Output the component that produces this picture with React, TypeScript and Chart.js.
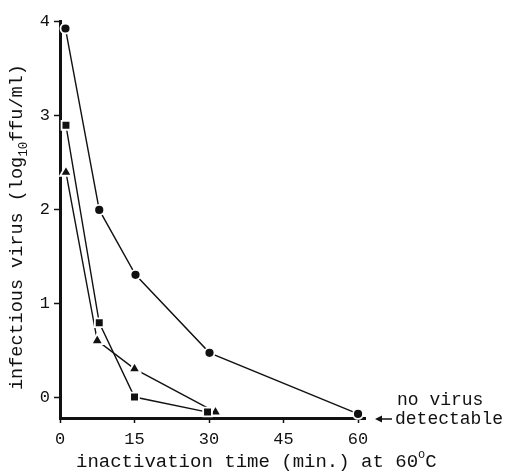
import React, { useEffect, useRef } from "react";
import { Chart, registerables } from "chart.js";

Chart.register(...registerables);

// ---- data ----
const circleX = [1.1, 7.9, 15.2, 30.1, 60];
const circleY = [3.92, 1.99, 1.3, 0.47, -0.18];

const squareX = [1.2, 7.9, 15, 29.7];
const squareY = [2.89, 0.79, 0, -0.16];

const triangleX = [1.2, 7.5, 15, 31.3];
const triangleY = [2.39, 0.6, 0.3, -0.16];

const xTicks = [0, 15, 30, 45, 60];
const yTicks = [0, 1, 2, 3, 4];

const X_MIN = 0;
const X_MAX = 61.4;
const Y_MIN = -0.223;
const Y_MAX = 4;

const xTitleMain = "inactivation time (min.) at 60";
const xTitleSup = "o";
const xTitleEnd = "C";
const yTitleMain = "infectious virus (log";
const yTitleSub = "10";
const yTitleEnd = "ffu/ml)";
const noteLine1 = "no virus";
const noteLine2 = "detectable";

const INK = "#111111";
const FONT = "'Liberation Mono', 'Courier New', monospace";

type Seg = { t: string; size: number; dy: number };

function drawRich(ctx: CanvasRenderingContext2D, segs: Seg[], x: number, y: number) {
  let cx = x;
  for (const s of segs) {
    ctx.font = `${s.size}px ${FONT}`;
    ctx.fillText(s.t, cx, y + s.dy);
    cx += ctx.measureText(s.t).width;
  }
}

const textPlugin = {
  id: "textPlugin",
  afterDraw(chart: any) {
    const { ctx, chartArea } = chart;
    ctx.save();
    ctx.fillStyle = INK;
    ctx.strokeStyle = INK;
    ctx.textAlign = "left";
    ctx.textBaseline = "alphabetic";

    // x axis title with superscript degree sign
    drawRich(
      ctx,
      [
        { t: xTitleMain, size: 19, dy: 0 },
        { t: xTitleSup, size: 12, dy: -9 },
        { t: xTitleEnd, size: 19, dy: 0 },
      ],
      chartArea.left + 16,
      chartArea.bottom + 49
    );

    // y axis title, rotated, with subscript
    ctx.save();
    ctx.translate(22, chartArea.bottom - 28);
    ctx.rotate(-Math.PI / 2);
    drawRich(
      ctx,
      [
        { t: yTitleMain, size: 18.5, dy: 0 },
        { t: yTitleSub, size: 12.5, dy: 5 },
        { t: yTitleEnd, size: 18.5, dy: 0 },
      ],
      0,
      0
    );
    ctx.restore();

    // "no virus detectable" note with arrow pointing at the bottom axis
    const yb = chartArea.bottom + 1;
    const ax0 = chartArea.right + 10;
    const ax1 = chartArea.right + 27;
    ctx.lineWidth = 1.5;
    ctx.beginPath();
    ctx.moveTo(ax0 + 2, yb);
    ctx.lineTo(ax1, yb);
    ctx.stroke();
    ctx.beginPath();
    ctx.moveTo(ax0, yb);
    ctx.lineTo(ax0 + 7, yb - 3.5);
    ctx.lineTo(ax0 + 7, yb + 3.5);
    ctx.closePath();
    ctx.fill();

    ctx.font = `18px ${FONT}`;
    ctx.fillText(noteLine1, chartArea.right + 32, chartArea.bottom - 13);
    ctx.fillText(noteLine2, chartArea.right + 30, chartArea.bottom + 6);
    ctx.restore();
  },
};

function toPoints(xs: number[], ys: number[]) {
  return xs.map((x, i) => ({ x, y: ys[i] }));
}

export default function App() {
  const canvasRef = useRef<HTMLCanvasElement | null>(null);

  useEffect(() => {
    document.body.style.margin = "0";
    const canvas = canvasRef.current;
    if (!canvas) return;

    const common = {
      borderColor: INK,
      borderWidth: 1.4,
      backgroundColor: INK,
      pointBackgroundColor: INK,
      pointBorderColor: "#ffffff",
      pointBorderWidth: 1.8,
      tension: 0,
      clip: false as any,
      showLine: true,
    };

    const chart = new Chart(canvas, {
      type: "scatter",
      data: {
        datasets: [
          {
            ...common,
            label: "circle",
            data: toPoints(circleX, circleY),
            pointStyle: "circle",
            pointRadius: 5,
          },
          {
            ...common,
            label: "square",
            data: toPoints(squareX, squareY),
            pointStyle: "rect",
            pointRadius: 6.2,
          },
          {
            ...common,
            label: "triangle",
            data: toPoints(triangleX, triangleY),
            pointStyle: "triangle",
            pointRadius: 6.8,
          },
        ],
      },
      options: {
        responsive: false,
        animation: false,
        devicePixelRatio: 1,
        layout: { padding: { top: 21, right: 142, left: 0, bottom: 0 } },
        plugins: {
          legend: { display: false },
          tooltip: { enabled: false },
          title: { display: false },
        },
        scales: {
          x: {
            type: "linear",
            min: X_MIN,
            max: X_MAX,
            z: 1,
            afterBuildTicks: (scale: any) => {
              scale.ticks = xTicks.map((v) => ({ value: v }));
            },
            afterFit: (scale: any) => {
              scale.height = 54;
            },
            grid: {
              display: true,
              drawOnChartArea: false,
              drawTicks: true,
              tickLength: 5,
              tickWidth: 1.5,
              tickColor: INK,
            },
            border: { display: true, color: INK, width: 3 },
            ticks: {
              color: INK,
              font: { family: FONT, size: 17 },
              padding: 6,
              maxRotation: 0,
              autoSkip: false,
            },
            title: { display: false },
          },
          y: {
            type: "linear",
            min: Y_MIN,
            max: Y_MAX,
            z: 1,
            afterBuildTicks: (scale: any) => {
              scale.ticks = yTicks.map((v) => ({ value: v }));
            },
            afterFit: (scale: any) => {
              scale.width = 60;
            },
            grid: {
              display: true,
              drawOnChartArea: false,
              drawTicks: true,
              tickLength: 6,
              tickWidth: 1.5,
              tickColor: INK,
            },
            border: { display: true, color: INK, width: 3 },
            ticks: {
              color: INK,
              font: { family: FONT, size: 17 },
              padding: 4,
              autoSkip: false,
            },
            title: { display: false },
          },
        },
      },
      plugins: [textPlugin],
    });

    return () => {
      chart.destroy();
    };
  }, []);

  return (
    <div style={{ width: 507, height: 472, position: "relative" }}>
      <canvas ref={canvasRef} width={507} height={472} style={{ display: "block" }} />
    </div>
  );
}
